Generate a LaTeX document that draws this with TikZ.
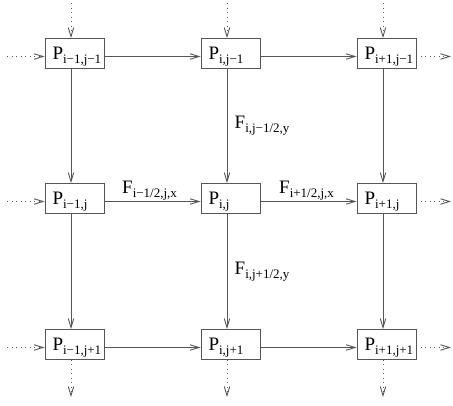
\documentclass[tikz,border=0pt]{standalone}
\usepackage{fontspec}
\setmainfont{Liberation Serif}
\usepackage{tikz}
\usetikzlibrary{arrows.meta}
\definecolor{wire}{RGB}{85,85,85}

\newcommand{\cellname}[1]{P\raisebox{-4pt}{\fontsize{13}{13}\selectfont #1}}
\newcommand{\fluxname}[1]{F\raisebox{-4pt}{\fontsize{13}{13}\selectfont #1}}

\begin{document}
\begin{tikzpicture}[
  x=1pt, y=-1pt,
  font=\fontsize{19}{19}\selectfont,
  cellbox/.style={draw=wire, line width=0.9pt, fill=white, inner xsep=7.5pt, inner ysep=0pt,
                  text width=44pt, align=left, text height=21pt, text depth=9pt},
  ar/.style={-{Straight Barb[length=9pt,width=5.5pt]}, draw=wire, line width=0.9pt},
  dar/.style={ar, dash pattern=on 1pt off 3.5pt},
  hx/.style={yshift=-3pt},
  vx/.style={xshift=-3.5pt},
  lab/.style={anchor=base west, inner sep=0pt},
]
\useasboundingbox (0,0) rectangle (453,405);

\node[cellbox] (nw) at (74.5,53.5)  {\cellname{i−1,j−1}};
\node[cellbox] (n)  at (230.5,53.5) {\cellname{i,j−1}};
\node[cellbox] (ne) at (386.5,53.5) {\cellname{i+1,j−1}};

\node[cellbox] (w)  at (74.5,198.5)  {\cellname{i−1,j}};
\node[cellbox] (c)  at (230.5,198.5) {\cellname{i,j}};
\node[cellbox] (e)  at (386.5,198.5) {\cellname{i+1,j}};

\node[cellbox] (sw) at (74.5,344.5)  {\cellname{i−1,j+1}};
\node[cellbox] (s)  at (230.5,344.5) {\cellname{i,j+1}};
\node[cellbox] (se) at (386.5,344.5) {\cellname{i+1,j+1}};

% free ends of the dotted arrows
\coordinate (tnw) at (71,3);
\coordinate (tn)  at (227,3);
\coordinate (tne) at (383,3);
\coordinate (lnw) at (7,56.5);
\coordinate (lw)  at (7,201.5);
\coordinate (lsw) at (7,347.5);
\coordinate (rne) at (451,56.5);
\coordinate (re)  at (451,201.5);
\coordinate (rse) at (451,347.5);
\coordinate (bsw) at (71,397);
\coordinate (bs)  at (227,397);
\coordinate (bse) at (383,397);

\draw[ar] ([hx]nw.east) -- ([hx]n.west);
\draw[ar] ([hx]n.east)  -- ([hx]ne.west);
\draw[ar] ([hx]w.east)  -- ([hx]c.west);
\draw[ar] ([hx]c.east)  -- ([hx]e.west);
\draw[ar] ([hx]sw.east) -- ([hx]s.west);
\draw[ar] ([hx]s.east)  -- ([hx]se.west);

\draw[ar] ([vx]nw.south) -- ([vx]w.north);
\draw[ar] ([vx]w.south)  -- ([vx]sw.north);
\draw[ar] ([vx]n.south)  -- ([vx]c.north);
\draw[ar] ([vx]c.south)  -- ([vx]s.north);
\draw[ar] ([vx]ne.south) -- ([vx]e.north);
\draw[ar] ([vx]e.south)  -- ([vx]se.north);

\draw[dar] (tnw) -- ([vx]nw.north);
\draw[dar] (tn)  -- ([vx]n.north);
\draw[dar] (tne) -- ([vx]ne.north);
\draw[dar] (lnw) -- ([hx]nw.west);
\draw[dar] (lw)  -- ([hx]w.west);
\draw[dar] (lsw) -- ([hx]sw.west);
\draw[dar] ([hx]ne.east) -- (rne);
\draw[dar] ([hx]e.east)  -- (re);
\draw[dar] ([hx]se.east) -- (rse);
\draw[dar] ([vx]sw.south) -- (bsw);
\draw[dar] ([vx]s.south)  -- (bs);
\draw[dar] ([vx]se.south) -- (bse);

\node[lab] (fn) at (234.5,128) {\fluxname{i,j−1/2,y}};
\node[lab] (fs) at (234.5,274) {\fluxname{i,j+1/2,y}};
\node[lab] (fw) at (122,193)   {\fluxname{i−1/2,j,x}};
\node[lab] (fe) at (279,193)   {\fluxname{i+1/2,j,x}};

\end{tikzpicture}
\end{document}
